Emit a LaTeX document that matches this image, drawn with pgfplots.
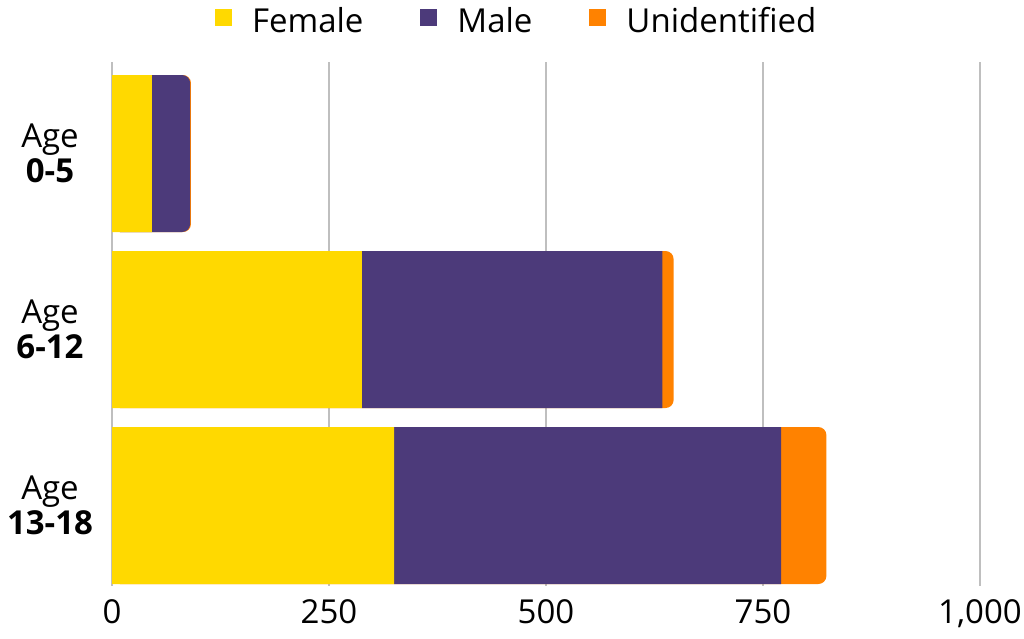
\documentclass[border=0pt]{standalone}
\usepackage{fontspec}
\setmainfont{Open Sans}
\usepackage{pgfplots}
\pgfplotsset{compat=1.18}

\definecolor{female}{HTML}{FFD900}
\definecolor{male}{HTML}{4C3A7A}
\definecolor{unid}{HTML}{FF8200}

% both axes share the same frame, one draws rounded ends, one the square segments
\pgfplotsset{
  base/.style={
    at={(0,0)}, anchor=south west, scale only axis,
    width=434bp, height=261.8bp,
    xmin=0, xmax=1000, ymin=-0.52, ymax=2.455, y dir=reverse,
  },
  seg/.style={fill=#1, draw=none, bar width=0.892, bar shift=0pt},
}

\begin{document}
\begin{tikzpicture}[font=\fontsize{16.5bp}{17.5bp}\selectfont]
\begin{axis}[base,
  xtick={0,250,500,750,1000},
  ytick={0,1,2},
  yticklabels={{Age\\\textbf{0-5}},{Age\\\textbf{6-12}},{Age\\\textbf{13-18}}},
  yticklabel style={align=center, anchor=center, xshift=-31bp},
  xticklabel style={yshift=-3.5bp},
  /pgf/number format/assume math mode=true,
  /pgf/number format/1000 sep={,},
  xmajorgrids,
  major grid style={draw=gray!50, line width=0.6bp},
  axis line style={draw=none},
  major tick length=0pt,
  legend columns=3,
  legend cell align=left,
  legend style={draw=none, fill=none, inner sep=0pt, outer sep=0pt,
    at={(0.1187,1.077)}, anchor=west,
    nodes={inner sep=0pt},
    /tikz/every odd column/.append style={column sep=10bp},
    /tikz/every even column/.append style={column sep=28.5bp}},
  legend image code/.code={\fill[#1, draw=none] (0bp,-2.4bp) rectangle (8.5bp,6.1bp);},
]
\addlegendimage{fill=female}
\addlegendentry{Female}
\addlegendimage{fill=male}
\addlegendentry{Male}
\addlegendimage{fill=unid}
\addlegendentry{Unidentified}

% totals (Female+Male+Unidentified), rounded right end
\addplot[xbar, seg=unid, rounded corners=4bp, forget plot]
  coordinates {(91,0) (647,1) (823,2)};
% Age 0-5: Male is the visible end of the bar
\addplot[xbar, seg=male, rounded corners=4bp, forget plot]
  coordinates {(90,0)};
\end{axis}

\begin{axis}[base, hide axis, xbar stacked]
\addplot[seg=female] coordinates {(46,0) (288,1) (325,2)};
\addplot[seg=male] coordinates {(0,0) (346,1) (446,2)};
\end{axis}

\pgfresetboundingbox
\path[use as bounding box] (-56bp,-26.5bp) rectangle (456bp,292.8bp);
\end{tikzpicture}
\end{document}
